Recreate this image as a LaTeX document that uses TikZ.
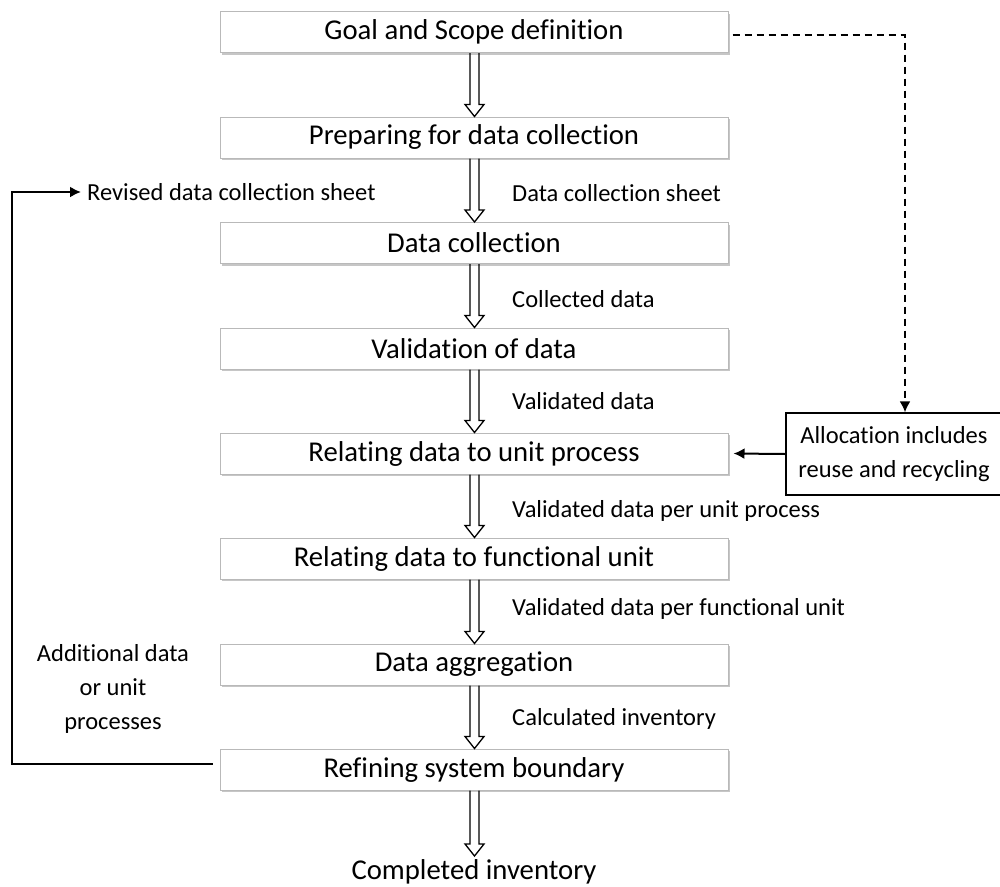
\documentclass[tikz,border=0pt]{standalone}
\usepackage{fontspec}
\setmainfont[Ligatures=NoCommon]{Carlito}
\usetikzlibrary{shadows,calc,arrows.meta}
\tikzset{
  stage/.style={draw=gray!55, line width=1pt, fill=white, minimum width=508pt, minimum height=41pt,
    inner sep=0pt, font=\fontsize{28.7}{32}\selectfont,
    drop shadow={shadow xshift=1.5pt, shadow yshift=-2pt, opacity=0.45, fill=gray}},
  flowlabel/.style={anchor=west, inner sep=0pt, font=\fontsize{24.5}{28}\selectfont},
  blockarr/.style={line width=1.3pt, line join=miter},
  link/.style={line width=2pt, -{Latex[length=11pt,width=11pt]}},
  dashlink/.style={line width=2pt, dash pattern=on 7pt off 5pt, -{Latex[length=11pt,width=11pt]}}
}
% open block arrow running straight down from #1 to #2
\newcommand\blockdown[2]{%
  \draw[blockarr] ($(#1)+(-4.5,0)$) -- ($(#2)+(-4.5,-12)$) -- ($(#2)+(-9.5,-12)$) -- (#2)
    -- ($(#2)+(9.5,-12)$) -- ($(#2)+(4.5,-12)$) -- ($(#1)+(4.5,0)$);}
\begin{document}
\begin{tikzpicture}[x=1pt,y=-1pt]
\useasboundingbox (0,0) rectangle (1000,886);

\node[stage] (s1) at (474,32) {\raisebox{-1.5pt}{Goal and Scope definition}};
\node[stage] (s2) at (474,137.5) {\raisebox{-1.5pt}{Preparing for data collection}};
\node[stage] (s3) at (474,243) {\raisebox{-1.5pt}{Data collection}};
\node[stage] (s4) at (474,348.5) {\raisebox{-1.5pt}{Validation of data}};
\node[stage] (s5) at (474,453.5) {\raisebox{-1.5pt}{Relating data to unit process}};
\node[stage] (s6) at (474,558.5) {\raisebox{-1.5pt}{Relating data to functional unit}};
\node[stage] (s7) at (474,664.5) {\raisebox{-1.5pt}{Data aggregation}};
\node[stage] (s8) at (474,769.5) {\raisebox{-1.5pt}{Refining system boundary}};

\node[inner sep=0pt, font=\fontsize{28.7}{32}\selectfont] (done) at (474,872) {Completed inventory};
\coordinate (donetop) at (474.5,856);

\foreach \a/\b in {s1/s2,s2/s3,s3/s4,s4/s5,s5/s6,s6/s7,s7/s8}{
  \blockdown{\a.south -| 474.5,0}{\b.north -| 474.5,0}
}
\blockdown{s8.south -| 474.5,0}{donetop}

\node[flowlabel] (l1) at (512,193) {Data collection sheet};
\node[flowlabel] (l2) at (512,299) {Collected data};
\node[flowlabel] (l3) at (512,401) {Validated data};
\node[flowlabel] (l4) at (512,511) {Validated data per unit process};
\node[flowlabel] (l5) at (512,609) {Validated data per functional unit};
\node[flowlabel] (l6) at (512,719) {Calculated inventory};

% allocation box on the right
\node[draw, line width=1.3pt, fill=white, minimum width=216pt, minimum height=82pt, inner sep=0pt,
  align=center, font=\fontsize{24.5}{34}\selectfont] (alloc) at (894,454) {\raisebox{-2pt}{Allocation includes}\\\raisebox{-2pt}{reuse and recycling}};
\draw[link] (alloc.west) -- ($(s5.east)+(5,0)$);
\coordinate (dcorner) at (905,35);
\draw[dashlink] ($(s1.east)+(4,3)$) -- (dcorner) -- (alloc.north -| dcorner);

% feedback loop on the left
\node[flowlabel] (rev) at (87,192) {Revised data collection sheet};
\node[align=center, inner sep=0pt, font=\fontsize{24.5}{34}\selectfont] (add) at (113,689) {Additional data\\or unit\\processes};
\coordinate (fbstart) at ($(s8.west)+(-7,-6)$);
\coordinate (fbt) at (12,192);
\draw[link] (fbstart) -- (fbstart -| fbt) -- (fbt) -- ($(rev.west)+(-6,0)$);
\end{tikzpicture}
\end{document}
